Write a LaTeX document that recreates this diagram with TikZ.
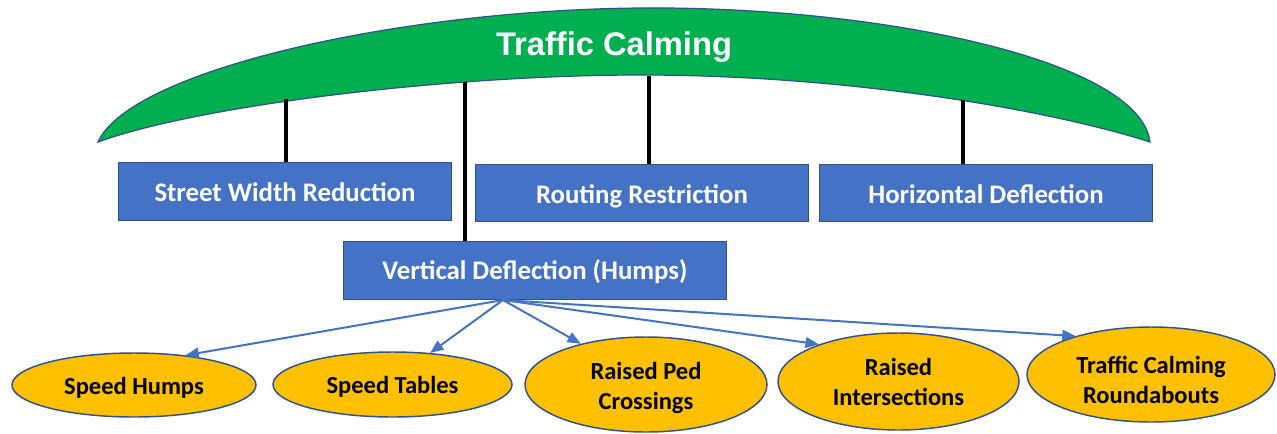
\documentclass[tikz,border=0pt]{standalone}
\usepackage{fontspec}
\setmainfont{Carlito}
\newfontfamily\titlefont{Liberation Sans}
\usetikzlibrary{arrows.meta,shapes.geometric}
\definecolor{arcgreen}{HTML}{00B050}
\definecolor{boxblue}{HTML}{4472C4}
\definecolor{edgeblue}{HTML}{2F528F}
\definecolor{ovalgold}{HTML}{FFC000}
\newcommand\lowtext[2]{\raisebox{-#1}[\height][\depth]{\begin{tabular}{@{}c@{}}#2\end{tabular}}}
\tikzset{
  catbox/.style={draw=edgeblue, line width=0.75pt, fill=boxblue, text=white, font=\bfseries\fontsize{20.1}{24}\selectfont, inner sep=0pt, anchor=north west},
  oval/.style={ellipse, draw=edgeblue, line width=1.1pt, fill=ovalgold, text=black, font=\bfseries\fontsize{18.4}{22.5}\selectfont, inner sep=0pt},
  stem/.style={line width=3pt, black},
  link/.style={draw=boxblue, line width=1.5pt, -{Triangle[length=10pt,width=8pt]}}
}
\begin{document}
\begin{tikzpicture}[x=0.75pt, y=-0.75pt]
\useasboundingbox (0,0) rectangle (1277,433);
% umbrella arc
\path[fill=arcgreen, draw=edgeblue, line width=0.9pt]
  (98,142) .. controls (130,70) and (400,10) .. (640,8)
  .. controls (880,6) and (1140,60) .. (1150,142)
  .. controls (1050,110) and (850,75) .. (640,75)
  .. controls (450,75) and (200,105) .. (98,142) -- cycle;
\node[text=white, font=\titlefont\bfseries\fontsize{24.5}{28}\selectfont] (title) at (614,47) {Traffic Calming};
\coordinate (a1) at (286,99);
\coordinate (a2) at (465,82);
\coordinate (a3) at (649,76);
\coordinate (a4) at (963,100);
% category boxes
\node[catbox, minimum width=333*0.75pt, minimum height=58*0.75pt] (swr) at (118,162) {\lowtext{2.85pt}{Street Width Reduction}};
\node[catbox, minimum width=333*0.75pt, minimum height=57*0.75pt] (rr) at (475,164) {\lowtext{3.2pt}{Routing Restriction}};
\node[catbox, minimum width=333*0.75pt, minimum height=57*0.75pt] (hd) at (819,164) {\lowtext{3.2pt}{Horizontal Deflection}};
\node[catbox, minimum width=383*0.75pt, minimum height=58*0.75pt] (vd) at (343,241) {\lowtext{1.7pt}{Vertical Deflection (Humps)}};
% stems
\draw[stem] (a1) -- (a1 |- swr.north);
\draw[stem] (a2) -- (a2 |- vd.north);
\draw[stem] (a3) -- (a3 |- rr.north);
\draw[stem] (a4) -- (a4 |- hd.north);
% ovals
\node[oval, minimum width=244*0.75pt, minimum height=64*0.75pt] (sh) at (134,385) {\lowtext{2.6pt}{Speed Humps}};
\node[oval, minimum width=239*0.75pt, minimum height=65*0.75pt] (st) at (392.5,384.5) {\lowtext{2.2pt}{Speed Tables}};
\node[oval, minimum width=242*0.75pt, minimum height=95*0.75pt] (rpc) at (646,384.5) {\lowtext{2.8pt}{Raised Ped\\Crossings}};
\node[oval, minimum width=241*0.75pt, minimum height=97*0.75pt] (ri) at (898.5,381.5) {\lowtext{2.5pt}{Raised\\Intersections}};
\node[oval, minimum width=248*0.75pt, minimum height=95*0.75pt] (tcr) at (1151,374.5) {\lowtext{6pt}{Traffic Calming\\Roundabouts}};
% arrows
\coordinate (o) at (503,300);
\draw[link] (o) -- (sh.30);
\draw[link] (o) -- (st.40);
\draw[link] (o) -- (rpc.148);
\draw[link] (o) -- (ri.155);
\draw[link] (o) -- (tcr.153);
\end{tikzpicture}
\end{document}
